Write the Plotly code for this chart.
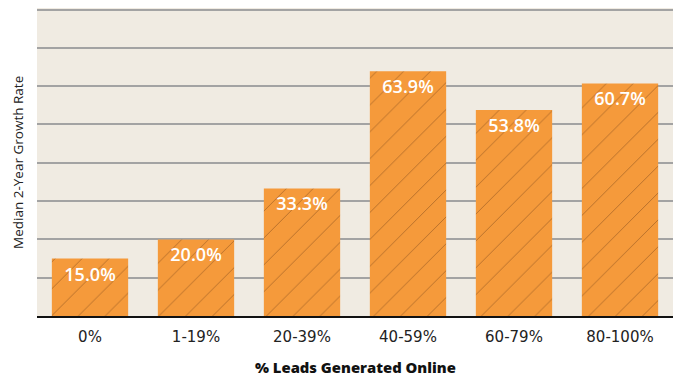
import plotly.graph_objects as go

categories = ["0%", "1-19%", "20-39%", "40-59%", "60-79%", "80-100%"]
values = [15.0, 20.0, 33.3, 63.9, 53.8, 60.7]
labels = ["15.0%", "20.0%", "33.3%", "63.9%", "53.8%", "60.7%"]

fig = go.Figure(go.Bar(
    x=categories, y=values, text=labels,
    textposition="inside", insidetextanchor="end",
    textfont=dict(family="Open Sans", size=18, color="white", weight=600),
    marker=dict(color="#F59A3B", line=dict(width=0),
                pattern=dict(shape="/", fgcolor="#8C5220", fgopacity=0.6, size=19, solidity=0.05)),
    cliponaxis=False,
))

fig.update_layout(
    width=698, height=386,
    margin=dict(l=29, r=33, t=0, b=78, autoexpand=False),
    paper_bgcolor="white", plot_bgcolor="#F0EBE2",
    bargap=0.28, showlegend=False,
    uniformtext=dict(minsize=18, mode="show"),
    xaxis=dict(
        automargin=False,
        showline=True, linecolor="#111111", linewidth=2,
        tickfont=dict(family="DejaVu Sans", size=15, color="#222222"),
        ticks="outside", ticklen=6, tickcolor="rgba(0,0,0,0)",
    ),
    yaxis=dict(
        automargin=False,
        range=[0, 80.4], dtick=10, showticklabels=False,
        showgrid=True, gridcolor="#A3A3A3", gridwidth=1.5, zeroline=False,
    ),
    annotations=[
        dict(text="% Leads Generated Online", xref="paper", yref="paper",
             x=0.5, y=-0.166, xanchor="center", yanchor="middle", showarrow=False,
             font=dict(family="Open Sans", size=14.8, color="#111111", weight=800)),
        dict(text="Median 2-Year Growth Rate", xref="paper", yref="paper",
             x=-0.030, y=0.5, xanchor="center", yanchor="middle", textangle=-90, showarrow=False,
             font=dict(family="Open Sans", size=13.5, color="#222222")),
    ],
)

fig.write_html("out.html")
